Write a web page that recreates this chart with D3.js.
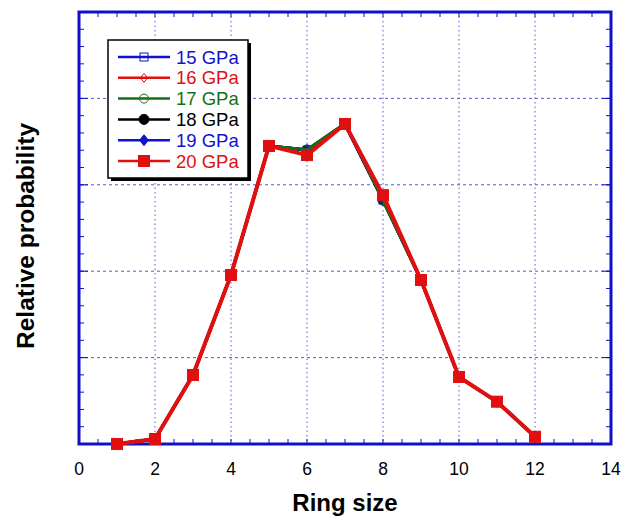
<!DOCTYPE html>
<html>
<head>
<meta charset="utf-8">
<script src="https://cdn.jsdelivr.net/npm/d3@7"></script>
<style>
  body { margin: 0; background: #fff; }
  text { font-family: 'Liberation Sans', Arial, sans-serif; }
</style>
</head>
<body>
<div id="chart"></div>
<script>
const ringSizes = [1, 2, 3, 4, 5, 6, 7, 8, 9, 10, 11, 12]

// relative probability per pressure
const p15 = [0.0, 0.0029, 0.0399, 0.0978, 0.1725, 0.1701, 0.1852, 0.1412, 0.0949, 0.0388, 0.0245, 0.0042]
const p16 = [0.0, 0.0029, 0.0399, 0.0978, 0.1725, 0.1701, 0.1852, 0.1412, 0.0949, 0.0388, 0.0245, 0.0042]
const p17 = [0.0, 0.0029, 0.0399, 0.0978, 0.1725, 0.1703, 0.1855, 0.1410, 0.0949, 0.0388, 0.0245, 0.0042]
const p18 = [0.0, 0.0029, 0.0399, 0.0978, 0.1725, 0.1701, 0.1852, 0.1412, 0.0949, 0.0388, 0.0245, 0.0042]
const p19 = [0.0, 0.0029, 0.0399, 0.0978, 0.1725, 0.1701, 0.1852, 0.1412, 0.0949, 0.0388, 0.0245, 0.0042]
const p20 = [0.0, 0.0029, 0.0399, 0.0978, 0.1725, 0.1672, 0.1852, 0.1440, 0.0949, 0.0388, 0.0245, 0.0042]

const seriesNames = ['15 GPa', '16 GPa', '17 GPa', '18 GPa', '19 GPa', '20 GPa']
const seriesValues = [p15, p16, p17, p18, p19, p20]
const seriesColors = ['#1010d0', '#e01010', '#157015', '#000000', '#1010d0', '#e01010']
const seriesMarkers = ['openSquare', 'openDiamond', 'openCircle', 'circle', 'diamond', 'square']
// order the lines are painted in (20 GPa on top, green just under it)
const drawOrder = [0, 1, 3, 4, 2, 5]

const xTicks = [0, 2, 4, 6, 8, 10, 12, 14]

const margin = { top: 12, left: 79, right: 13, bottom: 73 }
const W = 624
const H = 517
const width = W - margin.left - margin.right
const height = H - margin.top - margin.bottom

const svg = d3
  .select('#chart')
  .append('svg')
  .attr('width', W)
  .attr('height', H)

const g = svg
  .append('g')
  .attr('transform', 'translate(' + margin.left + ',' + margin.top + ')')

const x = d3.scaleLinear().domain([0, 14]).range([0, width])
const y = d3.scaleLinear().domain([0, 0.25]).range([height, 0])

const axisBlue = '#1010c8'
const gridBlue = '#5a5ad0'

// grid
const yGrid = d3.range(0.05, 0.25, 0.05)
g.selectAll('.vgrid')
  .data(xTicks.slice(1, -1))
  .enter()
  .append('line')
  .attr('x1', d => x(d))
  .attr('x2', d => x(d))
  .attr('y1', 0)
  .attr('y2', height)
  .attr('stroke', gridBlue)
  .attr('stroke-width', 1)
  .attr('stroke-dasharray', '1.5,3')

g.selectAll('.hgrid')
  .data(yGrid)
  .enter()
  .append('line')
  .attr('x1', 0)
  .attr('x2', width)
  .attr('y1', d => y(d))
  .attr('y2', d => y(d))
  .attr('stroke', gridBlue)
  .attr('stroke-width', 1)
  .attr('stroke-dasharray', '3,3')

// ticks (inward), major at grid, minor in between
const xMinor = d3.range(0.5, 14, 0.5)
const yMinor = d3.range(0.01, 0.25, 0.01)

function tickMarks(data, len, axis) {
  g.append('g')
    .selectAll('line')
    .data(data)
    .enter()
    .append('line')
    .attr('stroke', axisBlue)
    .attr('stroke-width', 1)
    .each(function(d) {
      const s = d3.select(this)
      if (axis === 'bottom') s.attr('x1', x(d)).attr('x2', x(d)).attr('y1', height).attr('y2', height - len)
      if (axis === 'top') s.attr('x1', x(d)).attr('x2', x(d)).attr('y1', 0).attr('y2', len)
      if (axis === 'left') s.attr('x1', 0).attr('x2', len).attr('y1', y(d)).attr('y2', y(d))
      if (axis === 'right') s.attr('x1', width).attr('x2', width - len).attr('y1', y(d)).attr('y2', y(d))
    })
}
tickMarks(xMinor, 5, 'bottom')
tickMarks(xMinor, 5, 'top')
tickMarks(yMinor, 5, 'left')
tickMarks(yMinor, 5, 'right')
tickMarks(yGrid, 9, 'left')
tickMarks(yGrid, 9, 'right')

// frame
g.append('rect')
  .attr('x', 0)
  .attr('y', 0)
  .attr('width', width)
  .attr('height', height)
  .attr('fill', 'none')
  .attr('stroke', axisBlue)
  .attr('stroke-width', 3)

// x tick labels
g.selectAll('.xlab')
  .data(xTicks)
  .enter()
  .append('text')
  .attr('x', d => x(d))
  .attr('y', height + 31)
  .attr('text-anchor', 'middle')
  .attr('font-size', 17.5)
  .attr('fill', '#000')
  .text(d => d)

// axis titles
svg.append('text')
  .attr('x', 345)
  .attr('y', 511)
  .attr('text-anchor', 'middle')
  .attr('font-size', 24)
  .attr('font-weight', 'bold')
  .text('Ring size')

svg.append('text')
  .attr('transform', 'translate(34,236) rotate(-90)')
  .attr('text-anchor', 'middle')
  .attr('font-size', 24.5)
  .attr('font-weight', 'bold')
  .text('Relative probability')

// markers
function drawMarker(sel, type, color, cx, cy) {
  if (type === 'square' || type === 'openSquare') {
    const s = type === 'square' ? 11 : 8
    sel.append('rect')
      .attr('x', cx - s / 2)
      .attr('y', cy - s / 2)
      .attr('width', s)
      .attr('height', s)
      .attr('fill', type === 'square' ? color : 'none')
      .attr('stroke', color)
      .attr('stroke-width', 1)
  } else if (type === 'circle' || type === 'openCircle') {
    sel.append('circle')
      .attr('cx', cx)
      .attr('cy', cy)
      .attr('r', type === 'circle' ? 5 : 4.5)
      .attr('fill', type === 'circle' ? color : 'none')
      .attr('stroke', color)
      .attr('stroke-width', 1)
  } else {
    const r = type === 'diamond' ? 5.5 : 4.5
    sel.append('path')
      .attr('d', `M${cx},${cy - r}L${cx + r * 0.8},${cy}L${cx},${cy + r}L${cx - r * 0.8},${cy}Z`)
      .attr('fill', type === 'diamond' ? color : 'none')
      .attr('stroke', color)
      .attr('stroke-width', 1)
  }
}

const line = d3
  .line()
  .x((d, i) => x(ringSizes[i]))
  .y(d => y(d))

drawOrder.forEach(k => {
  const vals = seriesValues[k]
  const sg = g.append('g')
  sg.append('path')
    .datum(vals)
    .attr('d', line)
    .attr('fill', 'none')
    .attr('stroke', seriesColors[k])
    .attr('stroke-width', k === 5 ? 4 : 3)
    .attr('stroke-linejoin', 'round')
  vals.forEach((v, i) => {
    drawMarker(sg, seriesMarkers[k], seriesColors[k], x(ringSizes[i]), y(v))
  })
})

// legend
const lg = svg.append('g').attr('transform', 'translate(108,40)')
lg.append('rect')
  .attr('x', 3)
  .attr('y', 3)
  .attr('width', 140)
  .attr('height', 138)
  .attr('fill', '#000')
lg.append('rect')
  .attr('x', 0)
  .attr('y', 0)
  .attr('width', 140)
  .attr('height', 138)
  .attr('fill', '#fff')
  .attr('stroke', '#000')
  .attr('stroke-width', 1.5)

seriesNames.forEach((name, k) => {
  const yy = 17 + k * 20.8
  lg.append('line')
    .attr('x1', 10)
    .attr('x2', 62)
    .attr('y1', yy)
    .attr('y2', yy)
    .attr('stroke', seriesColors[k])
    .attr('stroke-width', 2.5)
  drawMarker(lg, seriesMarkers[k], seriesColors[k], 36, yy)
  lg.append('text')
    .attr('x', 68)
    .attr('y', yy + 6.5)
    .attr('font-size', 18.5)
    .attr('fill', seriesColors[k])
    .text(name)
})
</script>
</body>
</html>
